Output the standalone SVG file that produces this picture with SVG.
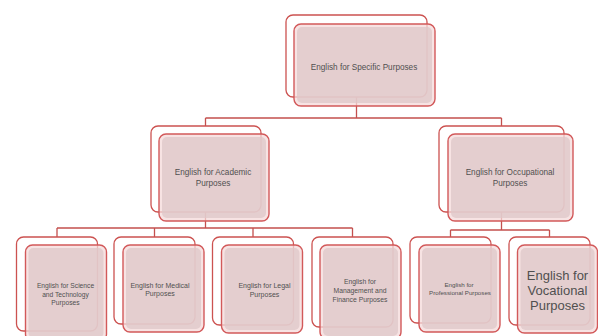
<svg xmlns="http://www.w3.org/2000/svg" width="598" height="336" viewBox="0 0 598 336">
<style>
.bk{fill:#ffffff;stroke:#cc5250;stroke-width:1.3}
.fr{fill:#f4d9d9;fill-opacity:0.75;stroke:#d2595a;stroke-width:1.4}
.in{fill:#ddc7c8;fill-opacity:0.75;stroke:none}
.cn{fill:none;stroke:#c4504e;stroke-width:1.3}
text{font-family:"Liberation Sans",Arial,sans-serif;fill:#505050;text-anchor:middle}
</style>
<rect width="598" height="336" fill="#ffffff"/>
<g id="connectors">
<path class="cn" d="M356.5 97V118M205.5 118H501.5M205.5 118V126M501.5 118V126"/>
<path class="cn" d="M205.5 212V228M57 228H352.5M57 228V237M154.5 228V237M253 228V237M352.5 228V237"/>
<path class="cn" d="M501.5 212V230M450.5 230H549.5M450.5 230V237M549.5 230V237"/>
</g>
<g id="n-esp">
<rect class="bk" x="286" y="15" width="141" height="82" rx="7"/>
<rect class="fr" x="294" y="24" width="141" height="82" rx="7"/>
<rect class="in" x="297" y="27" width="135" height="76" rx="5"/>
<text x="364" y="70" font-size="8.2">English for Specific Purposes</text>
</g>
<g id="n-eap">
<rect class="bk" x="151" y="126" width="110" height="86" rx="7"/>
<rect class="fr" x="159" y="134" width="110" height="87" rx="7"/>
<rect class="in" x="162" y="137" width="104" height="81" rx="5"/>
<text x="213" y="175" font-size="8.2">English for Academic</text>
<text x="213" y="186" font-size="8.2">Purposes</text>
</g>
<g id="n-eop">
<rect class="bk" x="439" y="126" width="125" height="86" rx="7"/>
<rect class="fr" x="448" y="134" width="125" height="87" rx="7"/>
<rect class="in" x="451" y="137" width="119" height="81" rx="5"/>
<text x="510" y="175" font-size="8.2">English for Occupational</text>
<text x="510" y="186" font-size="8.2">Purposes</text>
</g>
<g id="n-est">
<rect class="bk" x="16.5" y="237" width="81" height="94" rx="7"/>
<rect class="fr" x="25.5" y="245" width="81" height="96" rx="7"/>
<rect class="in" x="28.5" y="248" width="75" height="90" rx="5"/>
<text x="65.5" y="288" font-size="6.7">English for Science</text>
<text x="65.5" y="297" font-size="6.7">and Technology</text>
<text x="65.5" y="305" font-size="6.7">Purposes</text>
</g>
<g id="n-emp">
<rect class="bk" x="114" y="237" width="81" height="87" rx="7"/>
<rect class="fr" x="123" y="245" width="81" height="87" rx="7"/>
<rect class="in" x="126" y="248" width="75" height="81" rx="5"/>
<text x="160" y="288" font-size="7">English for Medical</text>
<text x="160" y="296" font-size="7">Purposes</text>
</g>
<g id="n-elp">
<rect class="bk" x="212.5" y="237" width="81" height="88" rx="7"/>
<rect class="fr" x="221.5" y="245" width="81" height="88" rx="7"/>
<rect class="in" x="224.5" y="248" width="75" height="82" rx="5"/>
<text x="264.5" y="288" font-size="7">English for Legal</text>
<text x="264.5" y="297" font-size="7">Purposes</text>
</g>
<g id="n-emf">
<rect class="bk" x="312" y="237" width="81" height="90" rx="7"/>
<rect class="fr" x="320" y="245" width="81" height="94" rx="7"/>
<rect class="in" x="323" y="248" width="75" height="88" rx="5"/>
<text x="360" y="284" font-size="6.8">English for</text>
<text x="360" y="293" font-size="6.8">Management and</text>
<text x="360" y="302" font-size="6.8">Finance Purposes</text>
</g>
<g id="n-epp">
<rect class="bk" x="410" y="237" width="81" height="86" rx="7"/>
<rect class="fr" x="419" y="245" width="81" height="87" rx="7"/>
<rect class="in" x="422" y="248" width="75" height="81" rx="5"/>
<text x="459" y="287" font-size="6.2">English for</text>
<text x="460" y="295" font-size="6.2">Professional Purposes</text>
</g>
<g id="n-evp">
<rect class="bk" x="509" y="237" width="81" height="88" rx="7"/>
<rect class="fr" x="517.5" y="245" width="80" height="88" rx="7"/>
<rect class="in" x="520.5" y="248" width="74" height="82" rx="5"/>
<text x="557.5" y="280" font-size="13">English for</text>
<text x="557.5" y="295" font-size="13">Vocational</text>
<text x="557.5" y="310" font-size="13">Purposes</text>
</g>
</svg>
